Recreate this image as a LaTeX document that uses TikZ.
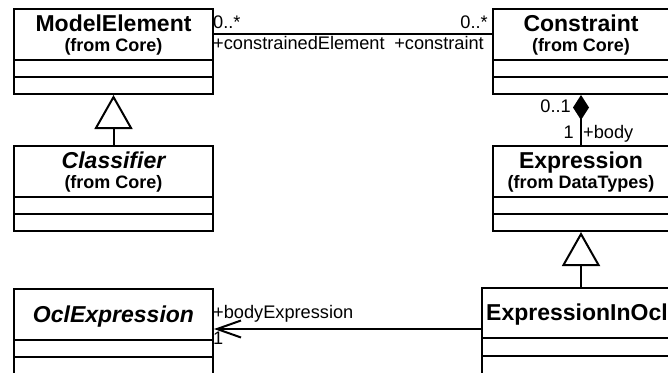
\documentclass[tikz,border=0pt]{standalone}
\usepackage{fontspec}
\setmainfont{Liberation Sans}
\usetikzlibrary{arrows.meta,calc}
\begin{document}
\begin{tikzpicture}[x=1pt,y=-1pt,
  classbox/.style={draw,line width=2pt,inner sep=0pt,anchor=north west},
  ctitle/.style={font=\fontsize{23}{26}\selectfont\bfseries,anchor=base,inner sep=0pt},
  csub/.style={font=\fontsize{18}{20}\selectfont\bfseries,anchor=base,inner sep=0pt},
  lbl/.style={font=\fontsize{18.2}{20}\selectfont,inner sep=0pt},
  conn/.style={line width=2pt},
  gen/.style={conn,-{Triangle[open,length=34pt,width=38pt,line width=2pt]}},
  comp/.style={conn,-{Diamond[length=25pt,width=16pt]}},
  nav/.style={conn,-{Straight Barb[length=24pt,width=17pt,line width=2pt]}}
]
\useasboundingbox (0,0) rectangle (668,372);
\clip (0,0) rectangle (668,372);
\newcommand\compartments[1]{%
  \draw[line width=2pt] ([yshift=-52pt]#1.north west) -- ([yshift=-52pt]#1.north east);
  \draw[line width=2pt] ([yshift=-69pt]#1.north west) -- ([yshift=-69pt]#1.north east);}
% boxes
\node[classbox,minimum width=199pt,minimum height=85pt] (me) at (13,8) {};
\node[classbox,minimum width=176pt,minimum height=85pt] (con) at (492,8) {};
\node[classbox,minimum width=199pt,minimum height=85pt] (cls) at (13,145) {};
\node[classbox,minimum width=176pt,minimum height=85pt] (expr) at (492,145) {};
\node[classbox,minimum width=199pt,minimum height=92pt] (ocl) at (13,288) {};
\node[classbox,minimum width=196pt,minimum height=92pt] (eio) at (481,287) {};
\compartments{me}\compartments{con}\compartments{cls}\compartments{expr}
\compartments{ocl}
\draw[line width=2pt] ([yshift=-51pt]eio.north west) -- ([yshift=-51pt]eio.north east);
\draw[line width=2pt] ([yshift=-69pt]eio.north west) -- ([yshift=-69pt]eio.north east);
% titles
\node[ctitle] (meT) at ($(me.north)+(0,23.5)$) {ModelElement};
\node[csub] (meS) at ($(me.north)+(0,43.5)$) {(from Core)};
\node[ctitle] (conT) at ($(con.north)+(0,23.5)$) {Constraint};
\node[csub] (conS) at ($(con.north)+(0,43.5)$) {(from Core)};
\node[ctitle] (clsT) at ($(cls.north)+(0,23)$) {\itshape Classifier};
\node[csub] (clsS) at ($(cls.north)+(0,43)$) {(from Core)};
\node[ctitle] (exprT) at ($(expr.north)+(0,23.5)$) {Expression};
\node[csub] (exprS) at ($(expr.north)+(0,43.5)$) {(from DataTypes)};
\node[ctitle] (oclT) at ($(ocl.north)+(0,34)$) {\itshape OclExpression};
\node[ctitle,anchor=base west] (eioT) at ($(eio.north west)+(5,33)$) {ExpressionInOcl};
% connectors
\draw[conn] ([yshift=-26pt]me.north east) coordinate (a1) -- (a1 -| con.west);
\draw[gen] (cls.north) -- (me.south);
\draw[gen] (eio.north -| expr.south) coordinate (g2) -- (expr.south);
\draw[comp] (expr.north) -- (con.south);
\draw[nav] ([yshift=-42pt]eio.north west) coordinate (a2) -- (a2 -| ocl.east);
% labels
\node[lbl,anchor=base west] (m1) at (213,28.5) {0..*};
\node[lbl,anchor=base east] (m2) at (488,28.5) {0..*};
\node[lbl,anchor=base west] (r1) at (213,49) {+constrainedElement};
\node[lbl,anchor=base east] (r2) at (484,49) {+constraint};
\node[lbl,anchor=base east] (m3) at (571,112) {0..1};
\node[lbl,anchor=base east] (m4) at (574,138) {1};
\node[lbl,anchor=base west] (r3) at (583,138) {+body};
\node[lbl,anchor=base west] (r4) at (213,318) {+bodyExpression};
\node[lbl,anchor=base west] (m5) at (213,344) {1};
\end{tikzpicture}
\end{document}
